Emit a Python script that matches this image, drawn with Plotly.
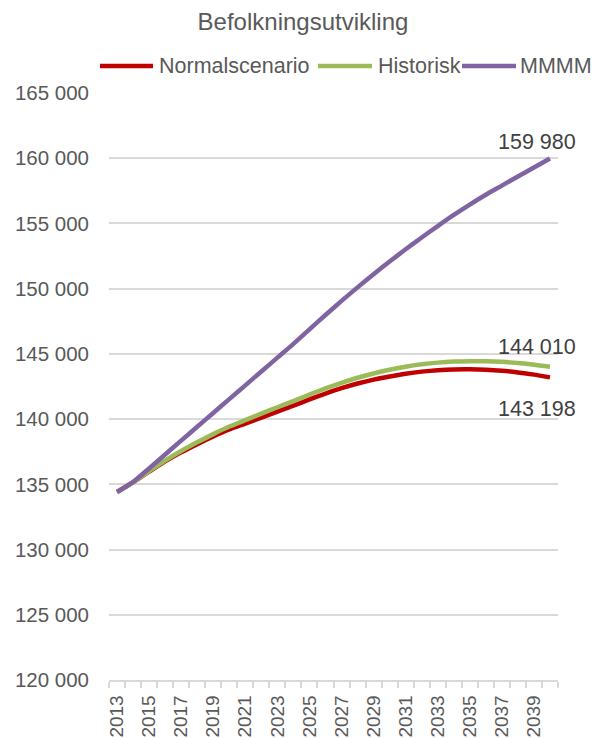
import plotly.graph_objects as go

years = list(range(2013, 2041))
normal = [134410, 135160, 135970, 136760, 137450, 138080, 138670, 139210, 139660,
          140120, 140580, 141030, 141510, 141960, 142370, 142730, 143030, 143270,
          143480, 143640, 143750, 143810, 143820, 143790, 143710, 143580, 143410, 143198]
historisk = [134410, 135170, 136000, 136820, 137550, 138220, 138850, 139430, 139920,
             140420, 140910, 141380, 141880, 142350, 142780, 143170, 143500, 143780,
             144020, 144200, 144330, 144410, 144440, 144440, 144390, 144300, 144170, 144010]
mmmm = [134410, 135180, 136220, 137290, 138350, 139410, 140470, 141530, 142590,
        143650, 144710, 145770, 146880, 147980, 149060, 150100, 151110, 152080,
        153020, 153920, 154800, 155650, 156450, 157200, 157900, 158600, 159290, 159980]
tick_years = years[:-1:2]

series = [
    ("Normalscenario", normal, "#C00000"),
    ("Historisk", historisk, "#9BBB59"),
    ("MMMM", mmmm, "#8064A2"),
]

font_family = "Liberation Sans, Arial, sans-serif"
W, H = 606, 738
OFF = 8  # page body margin offset in the screenshot
ML, MR, MT, MB = 101, 56, 85, 66
PW, PH = W - ML - MR, H - MT - MB


def px2x(sx):
    return (sx - OFF - ML) / PW


def px2y(sy):
    return 1 + (MT - (sy - OFF)) / PH


fig = go.Figure()
for name, vals, col in series:
    fig.add_trace(go.Scatter(
        x=years, y=vals, name=name, mode="lines", showlegend=False,
        line=dict(color=col, width=4.5, shape="spline", smoothing=0.6),
    ))


def fmt(v):
    return f"{v:,}".replace(",", " ")


label_shift = {"Normalscenario": -32, "Historisk": 20, "MMMM": 16}
for name, vals, col in series:
    fig.add_annotation(
        x=years[-1], y=vals[-1], text=fmt(vals[-1]), showarrow=False,
        xanchor="center", yanchor="middle", xshift=-13, yshift=label_shift[name],
        font=dict(family=font_family, size=21.5, color="#404040"),
    )

# manual legend (line sample + label)
legend_pos = [(100, 153, 157), (318, 372, 376), (462, 516, 518)]
ly = px2y(66)
for (name, vals, col), (x0, x1, xt) in zip(series, legend_pos):
    fig.add_shape(type="line", xref="paper", yref="paper",
                  x0=px2x(x0), x1=px2x(x1), y0=ly, y1=ly,
                  line=dict(color=col, width=4.5))
    fig.add_annotation(xref="paper", yref="paper", x=px2x(xt), y=ly, text=name,
                       showarrow=False, xanchor="left", yanchor="middle",
                       font=dict(family=font_family, size=21.5, color="#595959"))

fig.update_layout(
    width=W, height=H,
    margin=dict(l=ML, r=MR, t=MT, b=MB, autoexpand=False),
    paper_bgcolor="white", plot_bgcolor="white",
    separators=", ",
    showlegend=False,
    title=dict(text="Befolkningsutvikling", x=(303 - OFF) / W, xref="container",
               xanchor="center", y=1 - (22 - OFF) / H, yref="container",
               yanchor="middle",
               font=dict(family=font_family, size=24, color="#595959")),
)

fig.update_xaxes(
    range=[2012.5, 2040.5], tickvals=tick_years, ticktext=[str(y) for y in tick_years],
    tickangle=-90, ticks="", showgrid=False, zeroline=False,
    showline=True, linecolor="#D9D9D9", linewidth=1.5,
    ticklabelstandoff=6,
    tickfont=dict(family=font_family, size=19, color="#595959"),
    minor=dict(ticks="outside", ticklen=6, tickcolor="#D9D9D9", tickwidth=1.5,
               tick0=2012.5, dtick=1, showgrid=False),
)
fig.update_yaxes(
    range=[120000, 165000], dtick=5000, tickformat=",d",
    showgrid=True, gridcolor="#D9D9D9", gridwidth=1.5, zeroline=False,
    showline=False, ticks="", ticklabelstandoff=19,
    tickfont=dict(family=font_family, size=20.5, color="#595959"),
)

fig.write_html("out.html")
